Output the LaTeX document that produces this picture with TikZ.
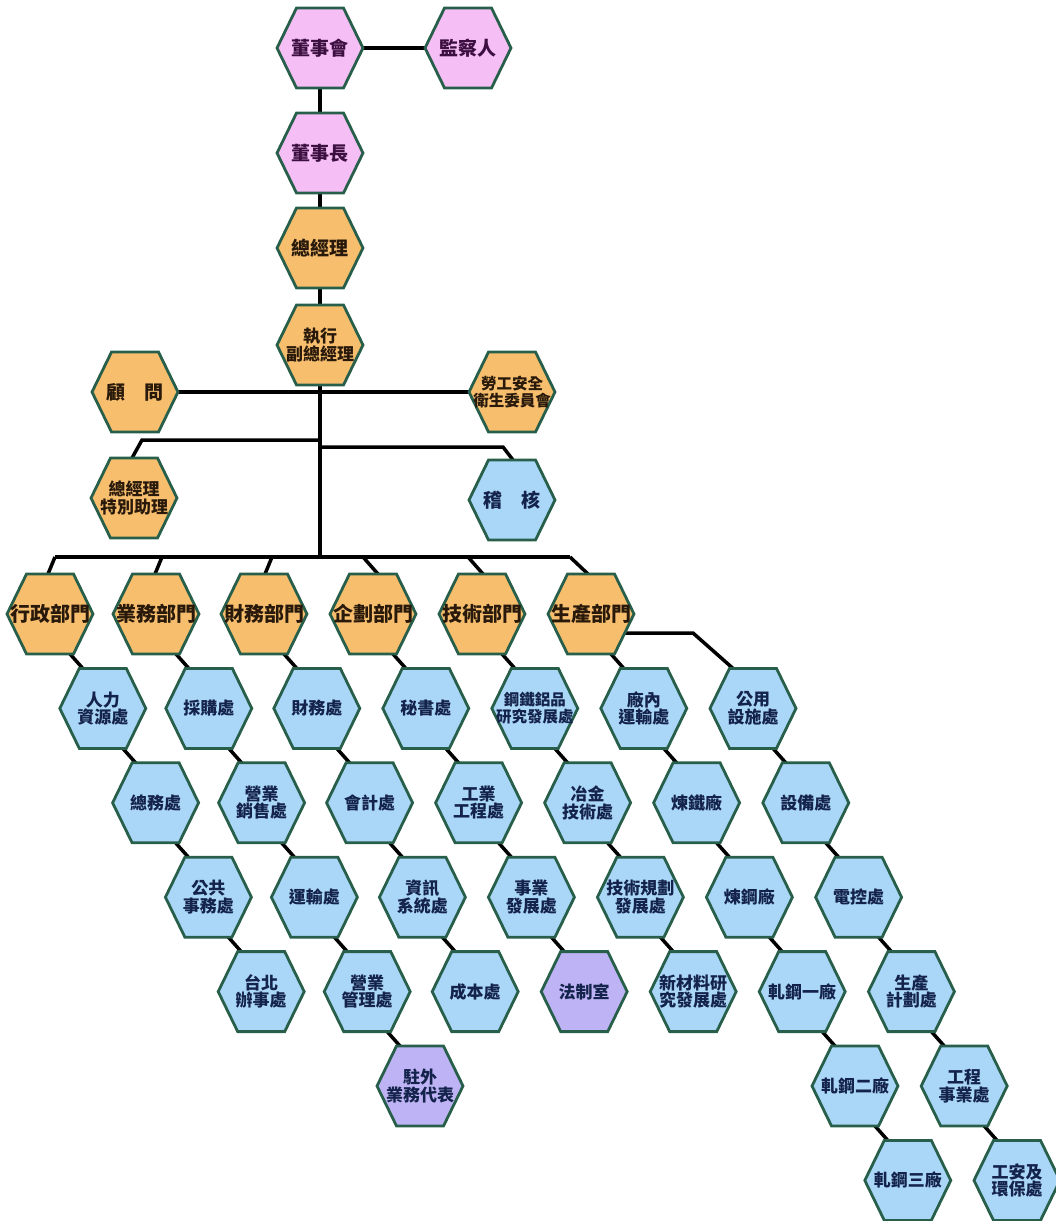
\documentclass[tikz,border=0pt]{standalone}
\usepackage{fontspec}
\setmainfont{Noto Sans CJK TC}
\usetikzlibrary{calc,backgrounds}
\definecolor{pinkf}{RGB}{245,190,245}
\definecolor{orangef}{RGB}{247,190,110}
\definecolor{bluef}{RGB}{170,214,247}
\definecolor{lavf}{RGB}{190,180,245}
\definecolor{hexborder}{RGB}{40,95,75}
\definecolor{pinkt}{RGB}{60,15,65}
\definecolor{oranget}{RGB}{40,25,10}
\definecolor{bluet}{RGB}{20,35,75}
\tikzset{
  hexpath/.style={draw=hexborder, line width=2.8pt, line join=miter},
  pinkhex/.style={fill=pinkf}, pinktxt/.style={text=pinkt},
  orghex/.style={fill=orangef}, orgtxt/.style={text=oranget},
  bluehex/.style={fill=bluef}, bluetxt/.style={text=bluet},
  lavhex/.style={fill=lavf}, lavtxt/.style={text=bluet},
  htext/.style={align=center, inner sep=0pt, font=\bfseries\fontsize{17}{17.5}\selectfont},
  bigtext/.style={font=\bfseries\fontsize{19}{20}\selectfont},
  depttext/.style={font=\bfseries\fontsize{20}{21}\selectfont},
  smalltext/.style={font=\bfseries\fontsize{15.5}{17}\selectfont},
  link/.style={line width=3.5pt, black},
}
\newcommand\hexnode[5][]{%
  \path[hexpath,#4hex] (#3) +(-43,0) -- +(-23.5,-40) -- +(23.5,-40) -- +(43,0) -- +(23.5,40) -- +(-23.5,40) -- cycle;
  \node[htext,#4txt,#1] (#2) at (#3) {#5};
}
\newcommand\chainlink[2]{\draw[link] ($(#1)+(20,40)$) -- ($(#2)+(-20,-40)$);}
\begin{document}
\begin{tikzpicture}[x=1pt,y=-1pt]
\useasboundingbox (0,0) rectangle (1055,1221);
% top
\hexnode[bigtext]{dsh}{320,48}{pink}{董事會}
\hexnode[bigtext]{jcr}{468,48}{pink}{監察人}
\hexnode[bigtext]{dsz}{320,153}{pink}{董事長}
\hexnode[bigtext]{zjl}{320,248}{org}{總經理}
\hexnode{zx}{320,345}{org}{執行\\副總經理}
\hexnode[bigtext]{gw}{135,392}{org}{顧　問}
\hexnode[smalltext]{lg}{512,392}{org}{勞工安全\\衛生委員會}
\hexnode{tz}{134,498}{org}{總經理\\特別助理}
\hexnode[bigtext]{jh}{512,500}{blue}{稽　核}
% departments
\hexnode[depttext]{da}{50,614}{org}{行政部門}
\hexnode[depttext]{db}{156,614}{org}{業務部門}
\hexnode[depttext]{dc}{264,614}{org}{財務部門}
\hexnode[depttext]{dd}{373,614}{org}{企劃部門}
\hexnode[depttext]{de}{482,614}{org}{技術部門}
\hexnode[depttext]{df}{591,614}{org}{生產部門}
% column A
\hexnode{a1}{102.8,708.4}{blue}{人力\\資源處}
\hexnode{a2}{155.6,802.8}{blue}{總務處}
\hexnode{a3}{208.4,897.2}{blue}{公共\\事務處}
\hexnode{a4}{261.2,991.6}{blue}{台北\\辦事處}
% column B
\hexnode{b1}{208.8,708.4}{blue}{採購處}
\hexnode{b2}{261.6,802.8}{blue}{營業\\銷售處}
\hexnode{b3}{314.4,897.2}{blue}{運輸處}
\hexnode{b4}{367.2,991.6}{blue}{營業\\管理處}
\hexnode{b5}{420,1086}{lav}{駐外\\業務代表}
% column C
\hexnode{c1}{316.8,708.4}{blue}{財務處}
\hexnode{c2}{369.6,802.8}{blue}{會計處}
\hexnode{c3}{422.4,897.2}{blue}{資訊\\系統處}
\hexnode{c4}{475.2,991.6}{blue}{成本處}
% column D
\hexnode{d1}{425.8,708.4}{blue}{秘書處}
\hexnode{d2}{478.6,802.8}{blue}{工業\\工程處}
\hexnode{d3}{531.4,897.2}{blue}{事業\\發展處}
\hexnode{d4}{584.2,991.6}{lav}{法制室}
% column E
\hexnode[smalltext]{e1}{534.8,708.4}{blue}{鋼鐵鋁品\\研究發展處}
\hexnode{e2}{587.6,802.8}{blue}{冶金\\技術處}
\hexnode{e3}{640.4,897.2}{blue}{技術規劃\\發展處}
\hexnode{e4}{693.2,991.6}{blue}{新材料研\\究發展處}
% column F
\hexnode{f1}{643.8,708.4}{blue}{廠內\\運輸處}
\hexnode{f2}{696.6,802.8}{blue}{煉鐵廠}
\hexnode{f3}{749.4,897.2}{blue}{煉鋼廠}
\hexnode{f4}{802.2,991.6}{blue}{軋鋼一廠}
\hexnode{f5}{855,1086}{blue}{軋鋼二廠}
\hexnode{f6}{907.8,1180.4}{blue}{軋鋼三廠}
% column G
\hexnode{g1}{753,708.4}{blue}{公用\\設施處}
\hexnode{g2}{805.8,802.8}{blue}{設備處}
\hexnode{g3}{858.6,897.2}{blue}{電控處}
\hexnode{g4}{911.4,991.6}{blue}{生產\\計劃處}
\hexnode{g5}{964.2,1086}{blue}{工程\\事業處}
\hexnode{g6}{1017,1180.4}{blue}{工安及\\環保處}
\coordinate (busL) at (55,557);
\coordinate (busR) at (570,557);
\coordinate (tzL) at (142,440);
\coordinate (jhR) at (503,447);
\coordinate (gyB) at (693,633);
\begin{pgfonlayer}{background}
  \draw[link] (dsh) -- (jcr);
  \draw[link] (dsh) -- (dsz);
  \draw[link] (dsz) -- (zjl);
  \draw[link] (zjl) -- (zx);
  \draw[link] (zx) -- (zx |- busL);
  \draw[link] (gw) -- (lg);
  \draw[link] (zx |- tzL) -- (tzL) -- ($(tz)+(-2,-40)$);
  \draw[link] (zx |- jhR) -- (jhR) -- ($(jh)+(1,-40)$);
  \draw[link] (busL) -- (busR);
  \draw[link] ($(da)+(5,-57)$) -- ($(da)+(-2,-40)$);
  \draw[link] ($(db)+(6,-57)$) -- ($(db)+(-1,-40)$);
  \draw[link] ($(dc)+(8,-57)$) -- ($(dc)+(1,-40)$);
  \draw[link] ($(dd)+(-10,-57)$) -- ($(dd)+(5,-40)$);
  \draw[link] ($(de)+(-14,-57)$) -- ($(de)+(1,-40)$);
  \draw[link] (busR) -- ($(df)+(-3,-40)$);
  \draw[link] ($(df)+(0,19)$) -- (gyB) -- ($(g1)+(-20,-40)$);
  \chainlink{da}{a1}\chainlink{a1}{a2}\chainlink{a2}{a3}\chainlink{a3}{a4}
  \chainlink{db}{b1}\chainlink{b1}{b2}\chainlink{b2}{b3}\chainlink{b3}{b4}\chainlink{b4}{b5}
  \chainlink{dc}{c1}\chainlink{c1}{c2}\chainlink{c2}{c3}\chainlink{c3}{c4}
  \chainlink{dd}{d1}\chainlink{d1}{d2}\chainlink{d2}{d3}\chainlink{d3}{d4}
  \chainlink{de}{e1}\chainlink{e1}{e2}\chainlink{e2}{e3}\chainlink{e3}{e4}
  \chainlink{df}{f1}\chainlink{f1}{f2}\chainlink{f2}{f3}\chainlink{f3}{f4}\chainlink{f4}{f5}\chainlink{f5}{f6}
  \chainlink{g1}{g2}\chainlink{g2}{g3}\chainlink{g3}{g4}\chainlink{g4}{g5}\chainlink{g5}{g6}
\end{pgfonlayer}
\end{tikzpicture}
\end{document}
